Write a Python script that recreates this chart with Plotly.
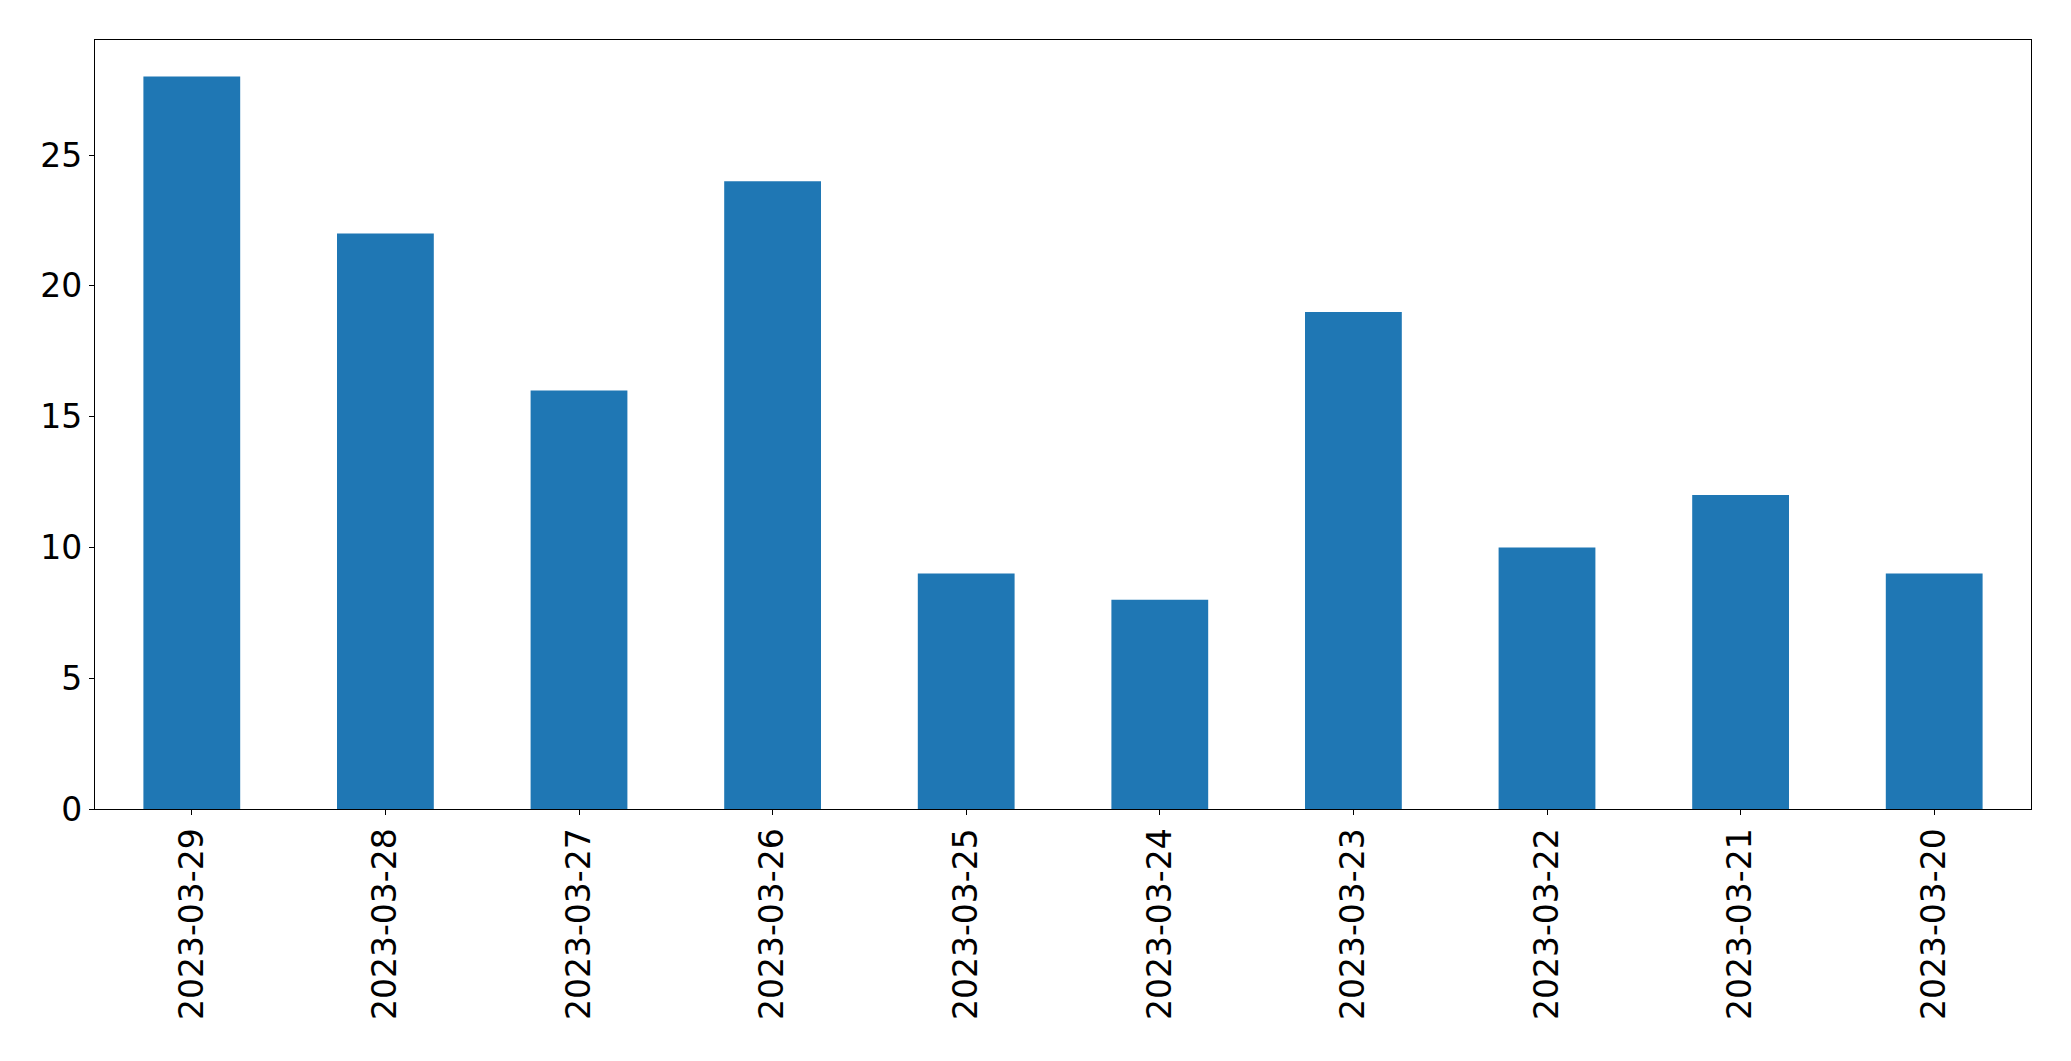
import plotly.graph_objects as go

dates = ["2023-03-29", "2023-03-28", "2023-03-27", "2023-03-26", "2023-03-25",
         "2023-03-24", "2023-03-23", "2023-03-22", "2023-03-21", "2023-03-20"]
counts = [28, 22, 16, 24, 9, 8, 19, 10, 12, 9]
y_ticks = [0, 5, 10, 15, 20, 25]

fig = go.Figure(go.Bar(x=list(range(len(dates))), y=counts, width=0.5,
                       marker=dict(color="#1f77b4", line=dict(width=0))))

font = dict(family="DejaVu Sans", size=33, color="black")
fig.update_layout(
    width=2071, height=1061,
    margin=dict(l=94.5, r=40, t=39.5, b=252, pad=0),
    paper_bgcolor="white", plot_bgcolor="white",
    showlegend=False, font=font,
)
fig.update_xaxes(
    range=[-0.5, len(dates) - 0.5], tickmode="array",
    tickvals=list(range(len(dates))), ticktext=dates, tickangle=-90,
    showline=True, mirror=True, linecolor="black", linewidth=1.2,
    ticks="outside", ticklen=5, tickwidth=1.2, tickcolor="black",
    showgrid=False, zeroline=False, tickfont=font,
)
fig.update_yaxes(
    range=[0, 29.4], tickmode="array", tickvals=y_ticks,
    showline=True, mirror=True, linecolor="black", linewidth=1.2,
    ticks="outside", ticklen=5, tickwidth=1.2, tickcolor="black",
    showgrid=False, zeroline=False, tickfont=font,
)
fig.write_html("out.html")
